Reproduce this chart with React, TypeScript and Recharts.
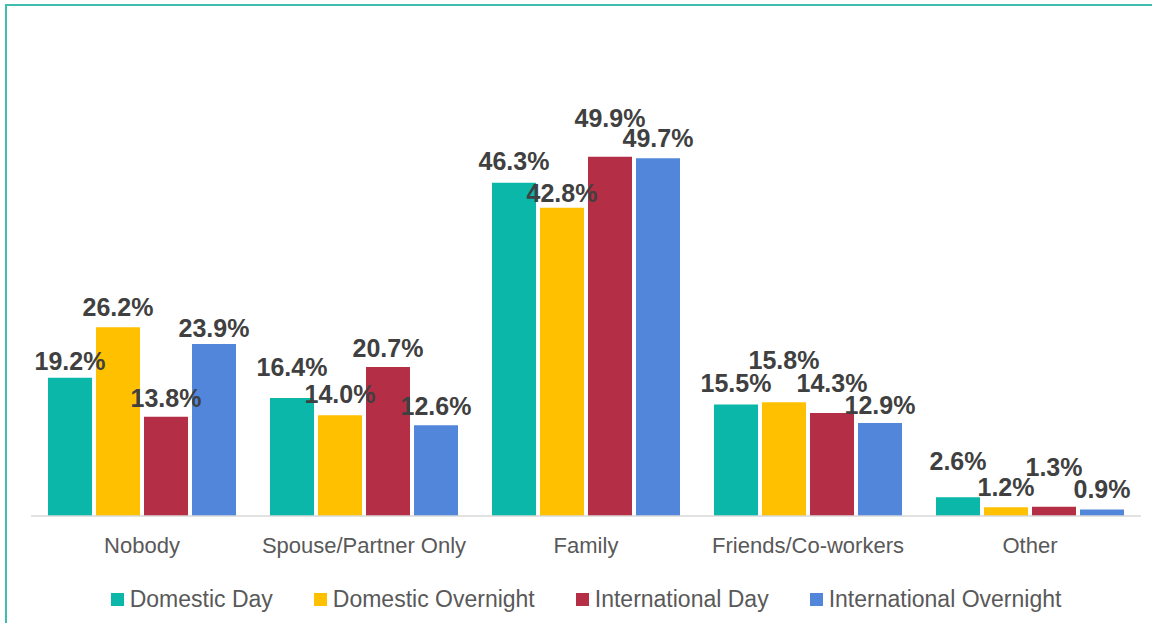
import React from 'react';
import { BarChart, Bar, XAxis, YAxis, Legend, LabelList } from 'recharts';

const categories = ['Nobody', 'Spouse/Partner Only', 'Family', 'Friends/Co-workers', 'Other'];
const domesticDay = [19.2, 16.4, 46.3, 15.5, 2.6];
const domesticOvernight = [26.2, 14.0, 42.8, 15.8, 1.2];
const internationalDay = [13.8, 20.7, 49.9, 14.3, 1.3];
const internationalOvernight = [23.9, 12.6, 49.7, 12.9, 0.9];

// how far each value label sits above its bar (px), staggered by hand in the original
const labelLift = {
  domesticDay: [8, 22, 13, 12, 27],
  domesticOvernight: [11, 12, 6, 33, 11],
  internationalDay: [10, 10, 30, 21, 31],
  internationalOvernight: [7, 10, 11, 9, 12],
};

const series = [
  { key: 'domesticDay', name: 'Domestic Day', color: '#0AB7A9' },
  { key: 'domesticOvernight', name: 'Domestic Overnight', color: '#FFC000' },
  { key: 'internationalDay', name: 'International Day', color: '#B42E45' },
  { key: 'internationalOvernight', name: 'International Overnight', color: '#5286DA' },
];

const data = categories.map((name, i) => ({
  name,
  domesticDay: domesticDay[i],
  domesticOvernight: domesticOvernight[i],
  internationalDay: internationalDay[i],
  internationalOvernight: internationalOvernight[i],
}));

const font = '"Liberation Sans", Arial, sans-serif';

const LegendContent = () => (
  <div style={{ display: 'flex', justifyContent: 'center', fontFamily: font, fontSize: 23, color: '#595959' }}>
    {series.map(s => (
      <div key={s.key} style={{ display: 'flex', alignItems: 'center', margin: '0 20.5px' }}>
        <span style={{ display: 'inline-block', width: 13, height: 13, background: s.color, marginRight: 6 }} />
        <span>{s.name}</span>
      </div>
    ))}
  </div>
);

const makeLabel = (key: string) => (props: any) => {
  const { x, y, width, value, index } = props;
  const lift = labelLift[key][index] ?? 8;
  return (
    <text
      x={Number(x) + Number(width) / 2}
      y={Number(y) - lift}
      textAnchor="middle"
      fontSize={25}
      fontWeight="bold"
      fill="#404040"
      fontFamily={font}
    >
      {`${Number(value).toFixed(1)}%`}
    </text>
  );
};

export default function App() {
  return (
    <div style={{ position: 'absolute', left: 0, top: 0, width: 1152, height: 623, background: '#fff' }}>
      {/* frame lines, top and left only */}
      <div
        style={{
          position: 'absolute',
          left: 5,
          top: 4,
          width: 1147,
          height: 619,
          borderTop: '2px solid #3FBDAF',
          borderLeft: '2px solid #3FBDAF',
          boxSizing: 'border-box',
        }}
      />
      <BarChart
        width={1152}
        height={623}
        data={data}
        margin={{ top: 84, right: 11, left: 31, bottom: 67 }}
        barCategoryGap={17}
        barGap={4}
      >
        <XAxis
          dataKey="name"
          height={40}
          tickLine={false}
          tickSize={0}
          tickMargin={21}
          axisLine={{ stroke: '#D9D9D9', strokeWidth: 1.5 }}
          tick={{ fontSize: 22, fill: '#595959', fontFamily: font }}
          interval={0}
        />
        <YAxis hide domain={[0, 60]} />
        <Legend
          verticalAlign="middle"
          content={<LegendContent />}
          wrapperStyle={{ top: 586, left: 10, width: 1152 }}
        />
        {series.map(s => (
          <Bar key={s.key} dataKey={s.key} name={s.name} fill={s.color} isAnimationActive={false}>
            <LabelList dataKey={s.key} content={makeLabel(s.key)} />
          </Bar>
        ))}
      </BarChart>
    </div>
  );
}
